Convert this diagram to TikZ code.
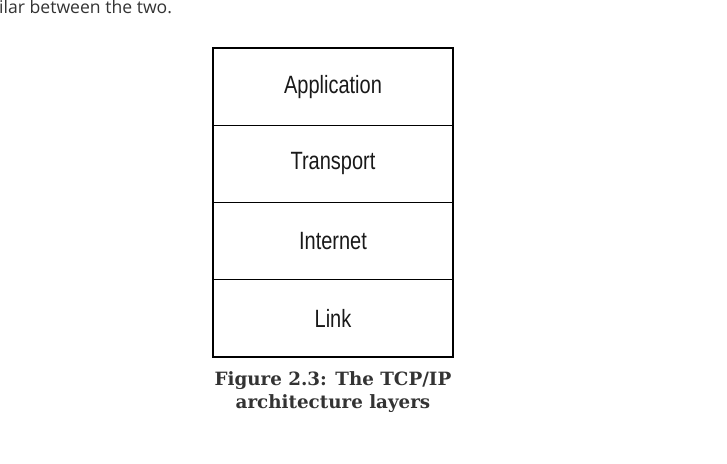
\documentclass[tikz,border=0pt]{standalone}
\usepackage{fontspec}
\setmainfont{DejaVu Serif}
\newfontfamily\layerfont[FakeStretch=0.8]{Liberation Sans}
\newfontfamily\bodyfont{Open Sans}
\definecolor{bodygray}{HTML}{333333}
\definecolor{capgray}{HTML}{333333}
\begin{document}
\begin{tikzpicture}[x=1pt,y=-1pt,
  layer/.style={draw=black, line width=1.2pt, minimum width=240pt, minimum height=77.25pt, inner sep=0pt, outer sep=0pt,
    font=\layerfont\fontsize{25}{29}\selectfont, text=black!90},
  captxt/.style={font=\bfseries\fontsize{18.3}{23}\selectfont, text=capgray, align=center, inner sep=0pt}]
\useasboundingbox (0,0) rectangle (727,463);
\node[anchor=base west, inner sep=0pt, text=bodygray, font=\bodyfont\fontsize{17.6}{21}\selectfont] (top) at (-1,13.5) {ilar between the two.};
\node[layer] (app) at (333,86.6) {Application};
\node[layer, anchor=north] (trans) at (app.south) {Transport};
\node[layer, anchor=north] (inet) at (trans.south) {Internet};
\node[layer, anchor=north] (link) at (inet.south) {Link};
\node[captxt, anchor=north] (cap) at (333,371.5) {Figure 2.3: The TCP/IP\\architecture layers};
\end{tikzpicture}
\end{document}
